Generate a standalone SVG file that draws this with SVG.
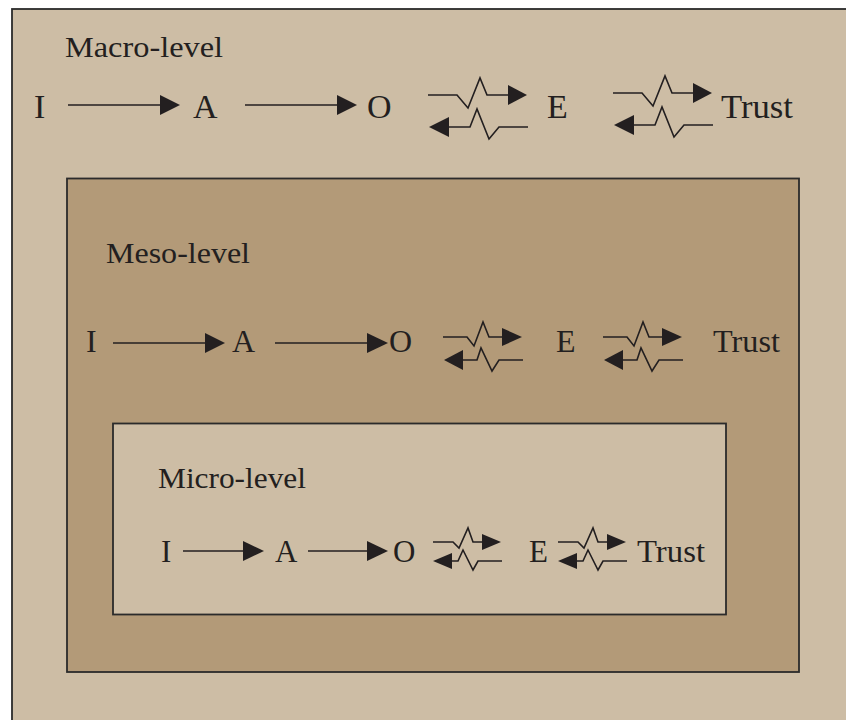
<svg xmlns="http://www.w3.org/2000/svg" xmlns:xlink="http://www.w3.org/1999/xlink" width="846" height="720" viewBox="0 0 846 720">
<style>
text{font-family:"Liberation Serif","Times New Roman",serif;fill:#231f20}
.box{stroke:#2b2b2b;stroke-width:1.8}
.light{fill:#cdbda5}
.dark{fill:#b39a78}
.ln{stroke:#231f20;stroke-width:1.6;fill:none;stroke-linejoin:miter}
.hd{fill:#231f20}
.title{font-size:30px}
.l1{font-size:34px}
.l2{font-size:32px}
.l3{font-size:31px}
</style>
<defs>
<g id="zzMacro">
<path class="ln" d="M0,0 H29 L40,13 L52,-17 L59,0 H80"/>
<polygon class="hd" points="80,-10 99,0 80,10"/>
<path class="ln" d="M21,32 H42 L49,14 L61,44 L71,32 H100"/>
<polygon class="hd" points="1,32 21,22 21,42"/>
</g>
<g id="zzMeso">
<path class="ln" d="M0,0 H24 L31,9 L40,-15 L46,0 H59"/>
<polygon class="hd" points="59,-9 79,0 59,9"/>
<path class="ln" d="M20,23 H34 L38,11 L49,34 L56,23 H80"/>
<polygon class="hd" points="1,23 20,13 20,33"/>
</g>
<g id="zzMicro">
<path class="ln" d="M0,0 H20 L26,6 L35,-14 L40,0 H49"/>
<polygon class="hd" points="49,-8 68,0 49,8"/>
<path class="ln" d="M19,19 H25 L30,8 L40,28 L45,19 H69"/>
<polygon class="hd" points="0,19 19,11 19,27"/>
</g>
</defs>
<rect x="0" y="0" width="846" height="720" fill="#ffffff"/>
<g id="macro">
<rect class="box light" x="12" y="9" width="850" height="730"/>
<text class="title" x="65" y="57" textLength="158" lengthAdjust="spacingAndGlyphs">Macro-level</text>
</g>
<g id="meso">
<rect class="box dark" x="67" y="178.5" width="732" height="493.5"/>
<text class="title" x="106" y="263" textLength="144" lengthAdjust="spacingAndGlyphs">Meso-level</text>
</g>
<g id="micro">
<rect class="box light" x="113" y="423.5" width="613" height="191"/>
<text class="title" x="158" y="488" font-size="31" textLength="148" lengthAdjust="spacingAndGlyphs">Micro-level</text>
</g>
<g id="macro-nodes" class="l1">
<g id="macro-I"><text class="l1" x="34" y="118">I</text></g>
<g id="macro-A"><text class="l1" x="193" y="118">A</text></g>
<g id="macro-O"><text class="l1" x="367" y="118">O</text></g>
<g id="macro-E"><text class="l1" x="547" y="118">E</text></g>
<g id="macro-Trust"><text class="l1" x="721" y="118" textLength="72" lengthAdjust="spacingAndGlyphs">Trust</text></g>
</g>
<g id="meso-nodes">
<g id="meso-I"><text class="l2" x="86" y="352">I</text></g>
<g id="meso-A"><text class="l2" x="232" y="352">A</text></g>
<g id="meso-O"><text class="l2" x="389" y="352">O</text></g>
<g id="meso-E"><text class="l2" x="556" y="352">E</text></g>
<g id="meso-Trust"><text class="l2" x="713" y="352" textLength="67" lengthAdjust="spacingAndGlyphs">Trust</text></g>
</g>
<g id="micro-nodes">
<g id="micro-I"><text class="l3" x="161" y="562">I</text></g>
<g id="micro-A"><text class="l3" x="275" y="562">A</text></g>
<g id="micro-O"><text class="l3" x="393" y="562">O</text></g>
<g id="micro-E"><text class="l3" x="529" y="562">E</text></g>
<g id="micro-Trust"><text class="l3" x="637" y="562" textLength="68" lengthAdjust="spacingAndGlyphs">Trust</text></g>
</g>
<g id="connectors">
<line class="ln" x1="68" y1="105" x2="162" y2="105"/>
<polygon class="hd" points="160,95 180,105 160,115"/>
<line class="ln" x1="245" y1="105" x2="339" y2="105"/>
<polygon class="hd" points="337,95 357,105 337,115"/>
<use xlink:href="#zzMacro" x="428" y="95"/>
<use xlink:href="#zzMacro" x="613" y="93"/>
<line class="ln" x1="113" y1="343" x2="207" y2="343"/>
<polygon class="hd" points="205,333 225,343 205,353"/>
<line class="ln" x1="275" y1="343" x2="369" y2="343"/>
<polygon class="hd" points="367,333 388,343 367,353"/>
<use xlink:href="#zzMeso" x="443" y="337"/>
<use xlink:href="#zzMeso" x="603" y="337"/>
<line class="ln" x1="183" y1="551" x2="245" y2="551"/>
<polygon class="hd" points="243,541 264,551 243,561"/>
<line class="ln" x1="308" y1="551" x2="369" y2="551"/>
<polygon class="hd" points="367,541 388,551 367,561"/>
<use xlink:href="#zzMicro" x="433" y="542"/>
<use xlink:href="#zzMicro" x="558" y="542"/>
</g>
</svg>
